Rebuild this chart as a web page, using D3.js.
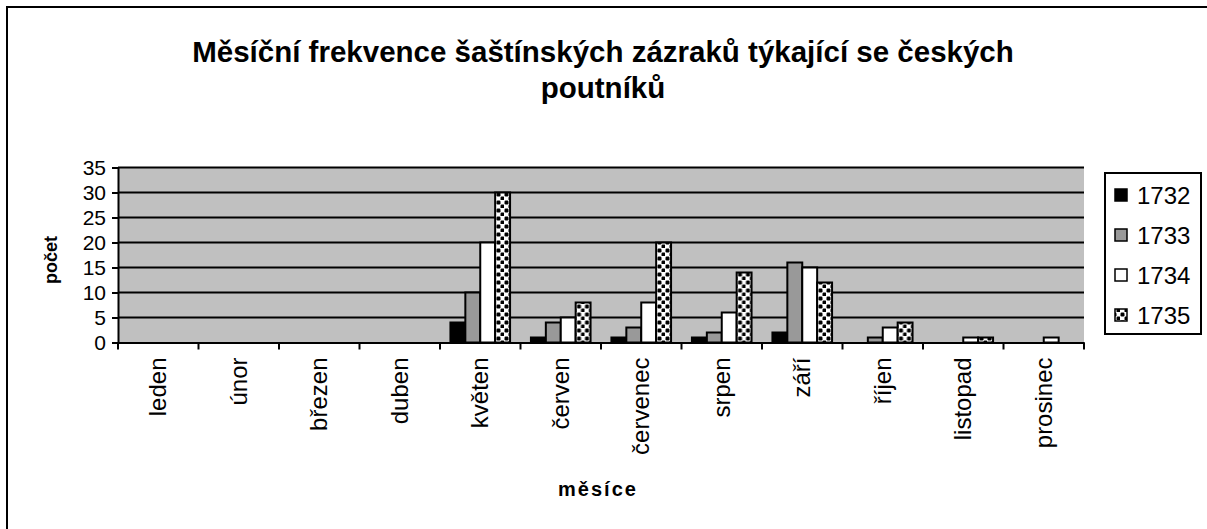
<!DOCTYPE html>
<html><head><meta charset="utf-8">
<script src="https://cdn.jsdelivr.net/npm/d3@7"></script>
<style>body{margin:0;background:#fff;} svg{display:block;font-family:"Liberation Sans",Arial,sans-serif;}</style>
</head><body>
<svg id="c" width="1207" height="529"></svg>
<script>
const months = ["leden","únor","březen","duben","květen","červen","červenec","srpen","září","říjen","listopad","prosinec"];
const years = ["1732","1733","1734","1735"];
const v1732 = [0,0,0,0,4,1,1,1,2,0,0,0];
const v1733 = [0,0,0,0,10,4,3,2,16,1,0,0];
const v1734 = [0,0,0,0,20,5,8,6,15,3,1,1];
const v1735 = [0,0,0,0,30,8,20,14,12,4,1,0];
const yTicks = [0,5,10,15,20,25,30,35];
const series = [v1732,v1733,v1734,v1735];
const fills = ["#000000","#999999","#ffffff","url(#dots)"];

const svg = d3.select("#c");
const defs = svg.append("defs");
const pat = defs.append("pattern").attr("id","dots").attr("patternUnits","userSpaceOnUse")
  .attr("width",8).attr("height",8);
pat.append("rect").attr("width",8).attr("height",8).attr("fill","#fff");
pat.append("rect").attr("x",0.5).attr("y",0.5).attr("width",4).attr("height",4).attr("rx",1.2).attr("fill","#000");
pat.append("rect").attr("x",4.5).attr("y",4.5).attr("width",4).attr("height",4).attr("rx",1.2).attr("fill","#000");

// outer border (only left/top visible)
svg.append("rect").attr("x",7).attr("y",7).attr("width",1300).attr("height",700)
  .attr("fill","none").attr("stroke","#000").attr("stroke-width",2);

const L=118, R=1084, T=167.5, B=342.5;
const x0 = d3.scaleBand().domain(months).range([L,R]).paddingInner(0).paddingOuter(0);
const x1 = d3.scaleBand().domain(years).range([0,x0.bandwidth()]).paddingInner(0).paddingOuter(0.7);
const y = d3.scaleLinear().domain([0,35]).range([B,T]);

// plot background
svg.append("rect").attr("x",L).attr("y",T).attr("width",R-L).attr("height",B-T).attr("fill","#c0c0c0");

// gridlines
svg.append("g").selectAll("line").data(yTicks.filter(d=>d>0)).join("line")
  .attr("x1",L).attr("x2",R).attr("y1",d=>y(d)).attr("y2",d=>y(d))
  .attr("stroke","#000").attr("stroke-width",2);

// bars
months.forEach((m,i)=>{
  const g = svg.append("g").attr("transform",`translate(${x0(m)},0)`);
  years.forEach((yr,j)=>{
    const val = series[j][i];
    if(val<=0) return;
    g.append("rect").attr("x",x1(yr)).attr("y",y(val)).attr("width",x1.bandwidth())
      .attr("height",y(0)-y(val)).attr("fill",fills[j]).attr("stroke","#000").attr("stroke-width",2);
  });
});

// y axis
const yAxis = svg.append("g").attr("transform",`translate(${L},0)`)
  .call(d3.axisLeft(y).tickValues(yTicks).tickSize(6).tickPadding(6).tickFormat(d3.format("d")));
yAxis.select(".domain").attr("stroke-width",2);
yAxis.selectAll(".tick line").attr("stroke-width",2);
yAxis.selectAll("text").attr("font-size",21).attr("fill","#000").attr("font-family","Liberation Sans, Arial, sans-serif");

// x axis
const xAxis = svg.append("g").attr("transform",`translate(0,${B})`)
  .call(d3.axisBottom(x0).tickSize(0).tickFormat(""));
xAxis.select(".domain").attr("stroke-width",2);
svg.append("g").selectAll("line").data(d3.range(months.length+1)).join("line")
  .attr("x1",d=>L+d*x0.step()).attr("x2",d=>L+d*x0.step()).attr("y1",B).attr("y2",B+7)
  .attr("stroke","#000").attr("stroke-width",2);
svg.append("g").selectAll("text").data(months).join("text")
  .attr("transform",d=>`translate(${x0(d)+x0.bandwidth()/2+8},${B+15}) rotate(-90)`)
  .attr("text-anchor","end").attr("font-size",24).text(d=>d);

// title
const title = svg.append("text").attr("x",603).attr("text-anchor","middle").attr("font-weight","bold").attr("font-size",29.5);
title.append("tspan").attr("x",603).attr("y",62).text("Měsíční frekvence šaštínských zázraků týkající se českých");
title.append("tspan").attr("x",603).attr("y",98).text("poutníků");

// axis titles
svg.append("text").attr("transform","translate(57,260) rotate(-90)").attr("text-anchor","middle")
  .attr("font-weight","bold").attr("font-size",18).text("počet");
svg.append("text").attr("x",598).attr("y",496).attr("text-anchor","middle")
  .attr("font-weight","bold").attr("font-size",20).attr("letter-spacing",2).text("měsíce");

// legend
const lg = svg.append("g");
lg.append("rect").attr("x",1105).attr("y",173).attr("width",96).attr("height",161)
  .attr("fill","#fff").attr("stroke","#000").attr("stroke-width",2);
years.forEach((yr,j)=>{
  const cy = 195 + j*40;
  lg.append("rect").attr("x",1115).attr("y",cy-6).attr("width",12).attr("height",12)
    .attr("fill",fills[j]).attr("stroke","#000").attr("stroke-width",1.5);
  lg.append("text").attr("x",1137).attr("y",cy+8.5).attr("font-size",24).text(yr);
});
</script>
</body></html>
